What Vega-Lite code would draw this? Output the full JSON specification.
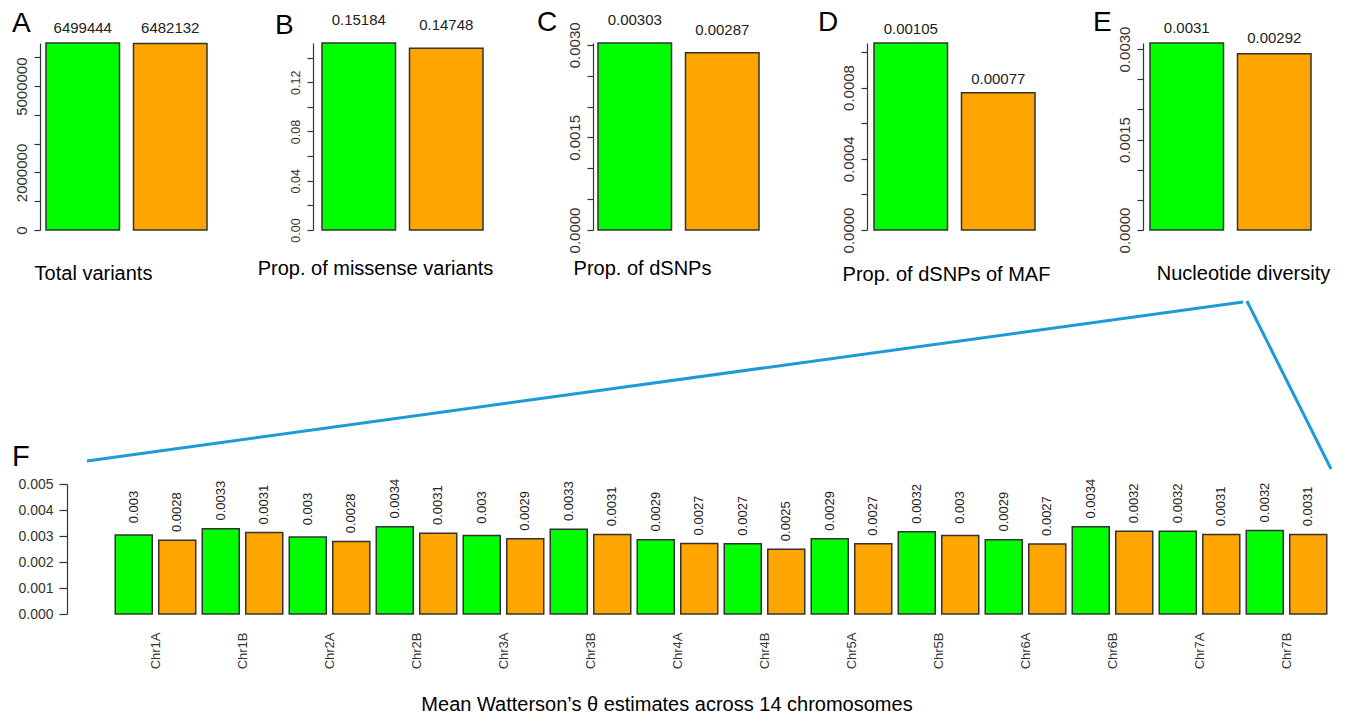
{
  "$schema": "https://vega.github.io/schema/vega-lite/v6.json",
  "padding": {"left": 12, "top": 8, "right": 3, "bottom": 0},
  "background": "white",
  "config": {
    "font": "Liberation Sans",
    "view": {"stroke": null},
    "axis": {"grid": false, "domainColor": "#333", "tickColor": "#333", "labelColor": "#333", "domainWidth": 1.2, "tickWidth": 1.2, "titleFontWeight": "normal", "titleColor": "#000", "titleFontSize": 20},
    "axisY": {"labelAngle": 270, "labelAlign": "center", "labelBaseline": "bottom", "tickSize": 6, "labelPadding": 5, "labelFontSize": 15},
    "title": {"anchor": "start", "frame": "group", "fontSize": 28, "fontWeight": "normal", "baseline": "alphabetic", "offset": 10, "color": "#000"}
  },
  "bounds": "flush",
  "spacing": 14,
  "resolve": {"scale": {"x": "independent", "y": "independent"}},
  "vconcat": [
    {
      "bounds": "flush",
      "spacing": 115,
      "resolve": {"scale": {"x": "independent", "y": "independent"}},
      "hconcat": [
        {
          "width": 161, "height": 187,
          "title": {"text": "A", "dx": -34, "dy": 27},
          "data": {"values": [{"group": "Group 1", "value": 6499444}, {"group": "Group 2", "value": 6482132}]},
          "encoding": {
            "x": {"field": "group", "type": "nominal", "sort": null, "scale": {"paddingInner": 0.16, "paddingOuter": 0}, "axis": {"title": "Total variants", "labels": false, "ticks": false, "domain": false, "titleX": 47, "titlePadding": 33}},
            "y": {"field": "value", "type": "quantitative", "scale": {"domain": [0, 6499444], "nice": false}, "axis": {"title": null, "offset": 6, "values": [0, 1000000, 2000000, 3000000, 4000000, 5000000, 6000000], "labelExpr": "datum.value == 0 ? '0' : datum.value == 2000000 ? '2000000' : datum.value == 5000000 ? '5000000' : ''"}}
          },
          "layer": [
            {"mark": {"type": "bar", "stroke": "#333", "strokeWidth": 1.5}, "encoding": {"color": {"field": "group", "type": "nominal", "scale": {"domain": ["Group 1", "Group 2"], "range": ["#00FF00", "#FFA500"]}, "legend": null}}},
            {"mark": {"type": "text", "dy": -10, "baseline": "alphabetic", "fontSize": 15, "color": "#222"}, "encoding": {"text": {"field": "value", "type": "quantitative", "format": ".5~f"}}}
          ]
        },
        {
          "width": 161, "height": 187,
          "title": {"text": "B", "dx": -47, "dy": 37},
          "data": {"values": [{"group": "Group 1", "value": 0.15184}, {"group": "Group 2", "value": 0.14748}]},
          "encoding": {
            "x": {"field": "group", "type": "nominal", "sort": null, "scale": {"paddingInner": 0.16, "paddingOuter": 0}, "axis": {"title": "Prop. of missense variants", "labels": false, "ticks": false, "domain": false, "titleX": 53, "titlePadding": 28}},
            "y": {"field": "value", "type": "quantitative", "scale": {"domain": [0, 0.15184], "nice": false}, "axis": {"title": null, "offset": 9, "labelFontSize": 12.5, "values": [0, 0.02, 0.04, 0.06, 0.08, 0.1, 0.12, 0.14], "labelExpr": "round(datum.value * 100) % 4 == 0 ? format(datum.value, '.2f') : ''"}}
          },
          "layer": [
            {"mark": {"type": "bar", "stroke": "#333", "strokeWidth": 1.5}, "encoding": {"color": {"field": "group", "type": "nominal", "scale": {"domain": ["Group 1", "Group 2"], "range": ["#00FF00", "#FFA500"]}, "legend": null}}},
            {"mark": {"type": "text", "dy": -18, "baseline": "alphabetic", "fontSize": 15, "color": "#222"}, "encoding": {"text": {"field": "value", "type": "quantitative", "format": ".5~f"}}}
          ]
        },
        {
          "width": 161, "height": 187,
          "title": {"text": "C", "dx": -61, "dy": 34},
          "data": {"values": [{"group": "Group 1", "value": 0.00303}, {"group": "Group 2", "value": 0.00287}]},
          "encoding": {
            "x": {"field": "group", "type": "nominal", "sort": null, "scale": {"paddingInner": 0.16, "paddingOuter": 0}, "axis": {"title": "Prop. of dSNPs", "labels": false, "ticks": false, "domain": false, "titleX": 44, "titlePadding": 28}},
            "y": {"field": "value", "type": "quantitative", "scale": {"domain": [0, 0.00303], "nice": false}, "axis": {"title": null, "offset": 5, "values": [0, 0.0005, 0.001, 0.0015, 0.002, 0.0025, 0.003], "labelExpr": "round(datum.value * 10000) % 15 == 0 ? format(datum.value, '.4f') : ''"}}
          },
          "layer": [
            {"mark": {"type": "bar", "stroke": "#333", "strokeWidth": 1.5}, "encoding": {"color": {"field": "group", "type": "nominal", "scale": {"domain": ["Group 1", "Group 2"], "range": ["#00FF00", "#FFA500"]}, "legend": null}}},
            {"mark": {"type": "text", "dy": -18, "baseline": "alphabetic", "fontSize": 15, "color": "#222"}, "encoding": {"text": {"field": "value", "type": "quantitative", "format": ".5~f"}}}
          ]
        },
        {
          "width": 161, "height": 187,
          "title": {"text": "D", "dx": -56, "dy": 25},
          "data": {"values": [{"group": "Group 1", "value": 0.00105}, {"group": "Group 2", "value": 0.00077}]},
          "encoding": {
            "x": {"field": "group", "type": "nominal", "sort": null, "scale": {"paddingInner": 0.16, "paddingOuter": 0}, "axis": {"title": "Prop. of dSNPs of MAF", "labels": false, "ticks": false, "domain": false, "titleX": 72, "titlePadding": 34}},
            "y": {"field": "value", "type": "quantitative", "scale": {"domain": [0, 0.00105], "nice": false}, "axis": {"title": null, "offset": 7, "values": [0, 0.0002, 0.0004, 0.0006, 0.0008, 0.001], "labelExpr": "round(datum.value * 10000) % 4 == 0 ? format(datum.value, '.4f') : ''"}}
          },
          "layer": [
            {"mark": {"type": "bar", "stroke": "#333", "strokeWidth": 1.5}, "encoding": {"color": {"field": "group", "type": "nominal", "scale": {"domain": ["Group 1", "Group 2"], "range": ["#00FF00", "#FFA500"]}, "legend": null}}},
            {"mark": {"type": "text", "dy": -9, "baseline": "alphabetic", "fontSize": 15, "color": "#222"}, "encoding": {"text": {"field": "value", "type": "quantitative", "format": ".5~f"}}}
          ]
        },
        {
          "width": 161, "height": 187,
          "title": {"text": "E", "dx": -57, "dy": 26},
          "data": {"values": [{"group": "Group 1", "value": 0.0031}, {"group": "Group 2", "value": 0.00292}]},
          "encoding": {
            "x": {"field": "group", "type": "nominal", "sort": null, "scale": {"paddingInner": 0.16, "paddingOuter": 0}, "axis": {"title": "Nucleotide diversity", "labels": false, "ticks": false, "domain": false, "titleX": 93, "titlePadding": 33}},
            "y": {"field": "value", "type": "quantitative", "scale": {"domain": [0, 0.0031], "nice": false}, "axis": {"title": null, "offset": 7, "values": [0, 0.0005, 0.001, 0.0015, 0.002, 0.0025, 0.003], "labelExpr": "round(datum.value * 10000) % 15 == 0 ? format(datum.value, '.4f') : ''"}}
          },
          "layer": [
            {"mark": {"type": "bar", "stroke": "#333", "strokeWidth": 1.5}, "encoding": {"color": {"field": "group", "type": "nominal", "scale": {"domain": ["Group 1", "Group 2"], "range": ["#00FF00", "#FFA500"]}, "legend": null}}},
            {"mark": {"type": "text", "dy": -10.5, "baseline": "alphabetic", "fontSize": 15, "color": "#222"}, "encoding": {"text": {"field": "value", "type": "quantitative", "format": ".5~f"}}}
          ]
        }
      ]
    },
    {
      "width": 1300, "height": 413,
      "data": {"values": [{}]},
      "layer": [
        {
          "mark": {"type": "rule", "color": "#1E9AD6", "strokeWidth": 3},
          "encoding": {
            "x": {"datum": 0.9208, "type": "quantitative", "scale": {"domain": [0, 1], "nice": false, "zero": false}, "axis": null},
            "y": {"datum": 0.4068, "type": "quantitative", "scale": {"domain": [0, 1], "nice": false, "zero": false}, "axis": null},
            "x2": {"datum": 0.0315},
            "y2": {"datum": 0.0218}
          }
        },
        {
          "mark": {"type": "rule", "color": "#1E9AD6", "strokeWidth": 3},
          "encoding": {
            "x": {"datum": 0.9238, "type": "quantitative", "scale": {"domain": [0, 1], "nice": false, "zero": false}, "axis": null},
            "y": {"datum": 0.4092, "type": "quantitative", "scale": {"domain": [0, 1], "nice": false, "zero": false}, "axis": null},
            "x2": {"datum": 0.9885},
            "y2": {"datum": 0.0024}
          }
        }
      ]
    },
    {
      "bounds": "flush",
      "spacing": 65,
      "resolve": {"scale": {"x": "independent", "y": "independent"}},
      "hconcat": [
        {"width": 1, "height": 130, "data": {"values": []}, "mark": "point"},
        {
          "width": 1218, "height": 130,
          "title": {"text": "F", "dx": -100, "dy": 4, "offset": 9, "fontSize": 29},
          "data": {"values": [
            {"chrom": "Chr1A", "group": "Group 1", "value": 0.00304}, {"chrom": "Chr1A", "group": "Group 2", "value": 0.00284},
            {"chrom": "Chr1B", "group": "Group 1", "value": 0.00328}, {"chrom": "Chr1B", "group": "Group 2", "value": 0.00313},
            {"chrom": "Chr2A", "group": "Group 1", "value": 0.00296}, {"chrom": "Chr2A", "group": "Group 2", "value": 0.00279},
            {"chrom": "Chr2B", "group": "Group 1", "value": 0.00336}, {"chrom": "Chr2B", "group": "Group 2", "value": 0.00311},
            {"chrom": "Chr3A", "group": "Group 1", "value": 0.00302}, {"chrom": "Chr3A", "group": "Group 2", "value": 0.00289},
            {"chrom": "Chr3B", "group": "Group 1", "value": 0.00326}, {"chrom": "Chr3B", "group": "Group 2", "value": 0.00306},
            {"chrom": "Chr4A", "group": "Group 1", "value": 0.00286}, {"chrom": "Chr4A", "group": "Group 2", "value": 0.00271},
            {"chrom": "Chr4B", "group": "Group 1", "value": 0.0027}, {"chrom": "Chr4B", "group": "Group 2", "value": 0.00249},
            {"chrom": "Chr5A", "group": "Group 1", "value": 0.00289}, {"chrom": "Chr5A", "group": "Group 2", "value": 0.0027},
            {"chrom": "Chr5B", "group": "Group 1", "value": 0.00316}, {"chrom": "Chr5B", "group": "Group 2", "value": 0.00302},
            {"chrom": "Chr6A", "group": "Group 1", "value": 0.00286}, {"chrom": "Chr6A", "group": "Group 2", "value": 0.00269},
            {"chrom": "Chr6B", "group": "Group 1", "value": 0.00336}, {"chrom": "Chr6B", "group": "Group 2", "value": 0.00318},
            {"chrom": "Chr7A", "group": "Group 1", "value": 0.00318}, {"chrom": "Chr7A", "group": "Group 2", "value": 0.00306},
            {"chrom": "Chr7B", "group": "Group 1", "value": 0.00321}, {"chrom": "Chr7B", "group": "Group 2", "value": 0.00306}
          ]},
          "encoding": {
            "x": {"field": "chrom", "type": "nominal", "sort": null, "scale": {"paddingInner": 0, "paddingOuter": 0}, "axis": {"title": "Mean Watterson’s θ estimates across 14 chromosomes", "labelAngle": 270, "labelAlign": "right", "labelBaseline": "middle", "labelPadding": 18, "labelFontSize": 13, "ticks": false, "domain": false, "bandPosition": 0.25, "titleX": 554.5, "titlePadding": 26}},
            "xOffset": {"field": "group", "type": "nominal", "sort": null, "scale": {"paddingInner": 0.1494, "paddingOuter": 0.0747}},
            "y": {"field": "value", "type": "quantitative", "scale": {"domain": [0, 0.005], "nice": false}, "axis": {"title": null, "values": [0, 0.001, 0.002, 0.003, 0.004, 0.005], "format": ".3f", "offset": 45, "tickSize": 8, "labelAngle": 0, "labelAlign": "right", "labelBaseline": "middle", "labelPadding": 6, "labelFontSize": 14}}
          },
          "layer": [
            {"mark": {"type": "bar", "stroke": "#333", "strokeWidth": 1.5}, "encoding": {"color": {"field": "group", "type": "nominal", "scale": {"domain": ["Group 1", "Group 2"], "range": ["#00FF00", "#FFA500"]}, "legend": null}}},
            {"mark": {"type": "text", "angle": 270, "dx": 28, "align": "center", "baseline": "middle", "fontSize": 13, "color": "#222"}, "encoding": {"text": {"field": "value", "type": "quantitative", "format": ".4~f"}}}
          ]
        }
      ]
    }
  ]
}
